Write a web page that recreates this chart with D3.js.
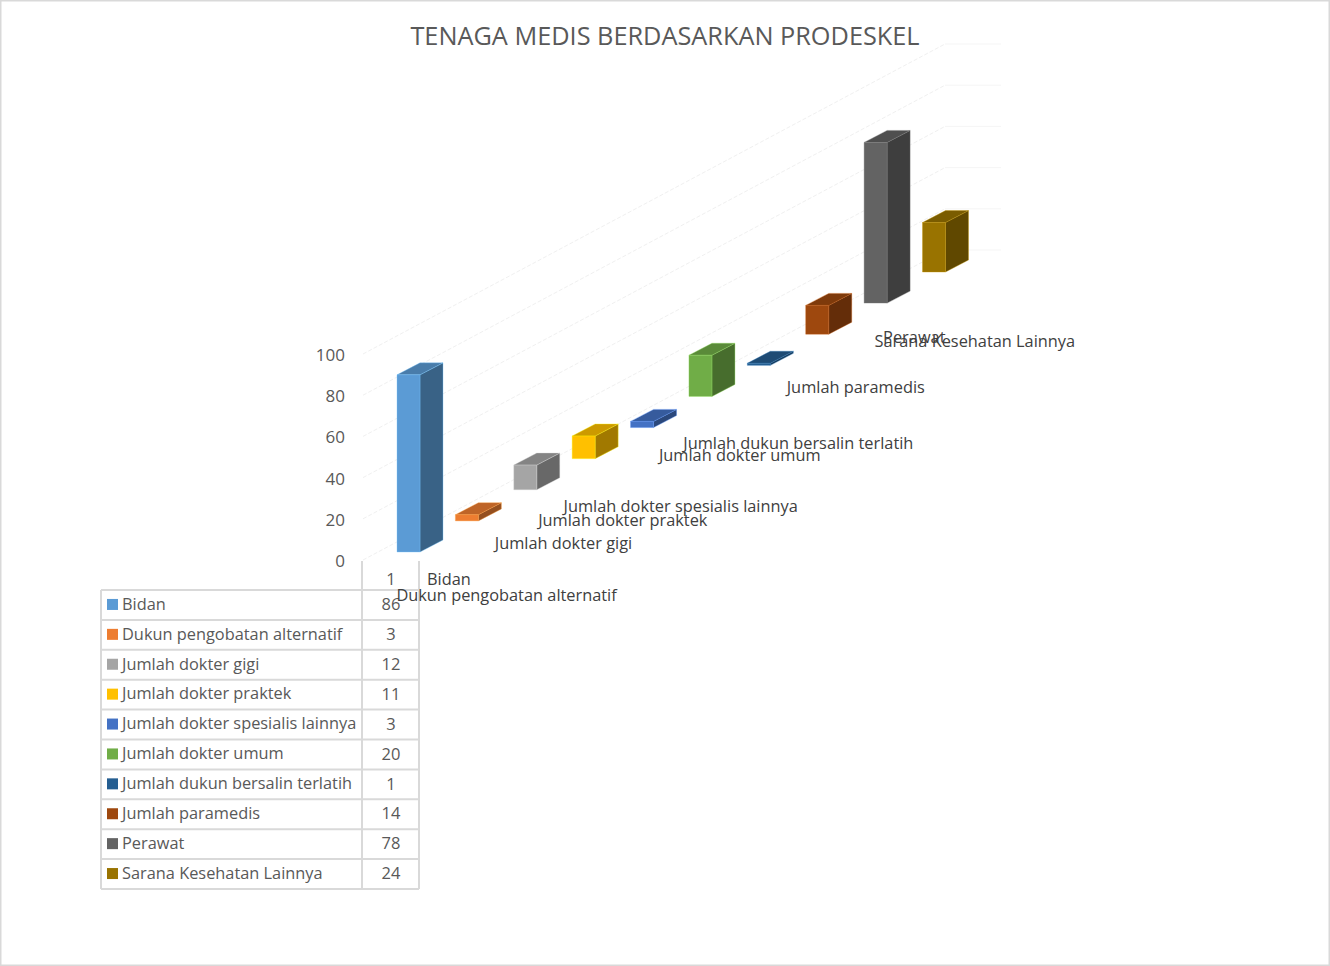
<!DOCTYPE html>
<html><head><meta charset="utf-8">
<script src="https://cdn.jsdelivr.net/npm/d3@7/dist/d3.min.js"></script>
<style>html,body{margin:0;background:#fff}svg{display:block}text{font-family:"Open Sans","Noto Sans",sans-serif}</style>
</head><body><svg id="c" width="1330" height="966"></svg>
<script>
const titleText = "TENAGA MEDIS BERDASARKAN PRODESKEL";
const categories = ["1"];
const seriesNames = ["Bidan","Dukun pengobatan alternatif","Jumlah dokter gigi","Jumlah dokter praktek","Jumlah dokter spesialis lainnya","Jumlah dokter umum","Jumlah dukun bersalin terlatih","Jumlah paramedis","Perawat","Sarana Kesehatan Lainnya"];
const seriesValues = [86,3,12,11,3,20,1,14,78,24];
const seriesColors = ["#5B9BD5","#ED7D31","#A5A5A5","#FFC000","#4472C4","#70AD47","#255E91","#9E480E","#636363","#997300"];
const yTicks = [0,20,40,60,80,100];
// layout only: where the series labels sit relative to their bars
const labelDx = [30,-59,-19,-34,-67,-30,-64,-19,19,-48];
const labelDy = [33,80,59,67,84,65,84,59,40,75];

const svg = d3.select("#c");
const W = 1330, H = 966, n = seriesNames.length;
svg.append("rect").attr("x",.5).attr("y",.5).attr("width",W-1).attr("height",H-1).attr("fill","#fff").attr("stroke","#d9d9d9").attr("stroke-width",2);

svg.append("text").attr("x",665).attr("y",45).attr("text-anchor","middle").attr("font-size",25.3).attr("fill","#595959").text(titleText);

const idx = d3.range(n);
const xS = d3.scaleLinear().domain([0,n-1]).range([397,922.5]);
const baseS = d3.scaleLinear().domain([0,n-1]).range([552,272]);
const hS = d3.scaleLinear().domain([0,100]).range([0,206]);
const axisS = d3.scaleLinear().domain([0,100]).range([561,355]);
const barW = 23, depthX = 23, depthY = 12;

// walls
const wall = svg.append("g").attr("fill","none");
yTicks.forEach(v=>{
  const h = hS(v);
  wall.append("line").attr("x1",363).attr("y1",560-h).attr("x2",945).attr("y2",250-h).attr("stroke","#f0f0f0").attr("stroke-dasharray","4 2");
  wall.append("line").attr("x1",945).attr("y1",250-h).attr("x2",1001).attr("y2",250-h).attr("stroke","#f5f5f5");
});

// y axis
const yAxis = d3.axisLeft(axisS).tickValues(yTicks).tickSize(0).tickPadding(0);
const gy = svg.append("g").attr("transform","translate(345,0)").call(yAxis);
gy.select(".domain").remove();
gy.selectAll("text").attr("font-size",17).attr("fill","#595959").style("font-family",'"Open Sans","Noto Sans",sans-serif');

const shade = (c,k)=>{const r=d3.rgb(c);return d3.rgb(r.r*k,r.g*k,r.b*k).formatHex();};
const bars = svg.append("g").selectAll("g").data(idx).join("g");
bars.each(function(i){
  const g = d3.select(this), x=xS(i), b=baseS(i), t=b-hS(seriesValues[i]), c=seriesColors[i];
  const edge = d3.rgb(c).brighter(.7).copy({opacity:.6}).toString();
  const poly=(pts,f)=>g.append("polygon").attr("points",pts.map(p=>p.join(",")).join(" ")).attr("fill",f).attr("stroke",edge).attr("stroke-width",.6);
  poly([[x+barW,b],[x+barW+depthX,b-depthY],[x+barW+depthX,t-depthY],[x+barW,t]],shade(c,.63));
  poly([[x,t],[x+depthX,t-depthY],[x+barW+depthX,t-depthY],[x+barW,t]],shade(c,.8));
  poly([[x,b],[x+barW,b],[x+barW,t],[x,t]],c);
});

// data table
const rowS = d3.scaleLinear().domain([0,n]).range([590,889]);
const tbl = svg.append("g").attr("stroke","#d9d9d9").attr("stroke-width",2);
d3.range(n+1).forEach(i=>tbl.append("line").attr("x1",101).attr("x2",419).attr("y1",rowS(i)).attr("y2",rowS(i)));
[[101,590],[362,561],[419,561]].forEach(([x,y])=>tbl.append("line").attr("x1",x).attr("x2",x).attr("y1",y).attr("y2",889));

svg.append("text").attr("x",391).attr("y",585).attr("text-anchor","middle").attr("font-size",16.5).attr("fill","#595959").text(categories[0]);
idx.forEach(i=>{
  const cy = (rowS(i)+rowS(i+1))/2;
  svg.append("rect").attr("x",107).attr("y",cy-6).attr("width",11).attr("height",11).attr("fill",seriesColors[i]);
  svg.append("text").attr("x",122).attr("y",cy+4.8).attr("font-size",16.35).attr("fill","#595959").text(seriesNames[i]);
  svg.append("text").attr("x",391).attr("y",cy+5.2).attr("text-anchor","middle").attr("font-size",16.5).attr("fill","#595959").text(seriesValues[i]);
});

// series labels on the depth axis
idx.forEach(i=>{
  svg.append("text").attr("x",xS(i)+labelDx[i]).attr("y",baseS(i)+labelDy[i]).attr("font-size",16.35).attr("fill","#404040").text(seriesNames[i]);
});
</script></body></html>
